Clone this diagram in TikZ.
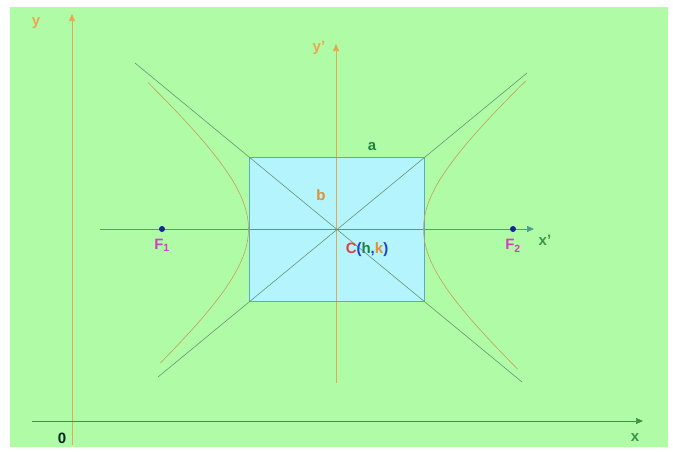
\documentclass[tikz,border=0pt]{standalone}
\usepackage{fontspec}
\setmainfont{Liberation Sans}
\usetikzlibrary{arrows.meta,positioning,calc}

\definecolor{bggreen}{HTML}{B0FCA6}
\definecolor{boxcyan}{HTML}{B4F4FC}
\definecolor{boxline}{HTML}{5AAAC8}
\definecolor{axorange}{HTML}{E8A850}
\definecolor{axgreen}{HTML}{3E9446}
\definecolor{axteal}{HTML}{4C9C90}
\definecolor{asymgrey}{HTML}{6A9474}
\definecolor{hypbrown}{HTML}{C4A05A}
\definecolor{focblue}{HTML}{1424A0}
\definecolor{focpink}{HTML}{D040C0}
\definecolor{lblred}{HTML}{E04040}
\definecolor{lblblue}{HTML}{2040D0}
\definecolor{lblgreen}{HTML}{208040}
\definecolor{lblorange}{HTML}{E09030}

\tikzset{
  lbl/.style={font=\fontsize{15}{17}\selectfont\bfseries, inner sep=0pt},
  axarrow/.style={-{Triangle[length=7pt,width=6pt]}, line width=0.7pt},
  focdot/.style={circle, fill=focblue, inner sep=0pt, minimum size=6pt},
}

\begin{document}
\begin{tikzpicture}[x=1pt,y=-1pt]
  \useasboundingbox (0,0) rectangle (673,451);
  \fill[bggreen] (10,7) rectangle (668,447); % background

  % original axes
  \coordinate (ybot) at (72,445);
  \coordinate (ytop) at (72,14);
  \coordinate (xleft) at (32,421);
  \coordinate (xright) at (643,421);
  \draw[axarrow, axorange] (ybot) -- (ytop);
  \draw[axarrow, axgreen] (xleft) -- (xright);
  \node[lbl, text=axorange] (ylbl) at (36,23) {y};
  \node[lbl, text=axgreen] (xlbl) at (635,438) {x};
  \node[lbl, text=black!70!teal] (olbl) at (62,438) {0};

  % centre and box
  \coordinate (C) at (336,229);
  \fill[boxcyan] (249,157) rectangle (424,301);

  % shifted axes
  \coordinate (ypbot) at (336,383);
  \coordinate (yptop) at (336,44);
  \coordinate (xpleft) at (100,229);
  \coordinate (xpright) at (534,229);
  \draw[axarrow, axorange] (ypbot) -- (yptop);
  \draw[axarrow, axteal] (xpleft) -- (xpright);
  \node[lbl, text=axorange] (yplbl) at (319,48) {y'};
  \node[lbl, text=axgreen] (xplbl) at (545,240) {x'};

  \draw[boxline, line width=0.8pt] (249,157) rectangle (424,301);

  % asymptotes
  \coordinate (aul) at ($(C)+(-201,-166)$);
  \coordinate (alr) at ($(C)+(186,153)$);
  \coordinate (aur) at ($(C)+(191,-156)$);
  \coordinate (all) at ($(C)+(-178,148)$);
  \draw[asymgrey, line width=0.6pt] (aul) -- (alr);
  \draw[asymgrey, line width=0.6pt] (all) -- (aur);

  % hyperbola branches
  \draw[hypbrown, line width=0.6pt, domain=-1.36:1.41, samples=60, smooth]
    plot ({336+87.5*cosh(\x)}, {229-77*sinh(\x)});
  \draw[hypbrown, line width=0.6pt, domain=-1.32:1.40, samples=60, smooth]
    plot ({336-87.5*cosh(\x)}, {229-77*sinh(\x)});

  % foci
  \node[focdot] (F1) at (162,229) {};
  \node[focdot] (F2) at (513,229) {};
  \node[lbl, text=focpink, below=7pt of F1] (F1lbl) {F$_{\mathbf 1}$};
  \node[lbl, text=focpink, below=7pt of F2] (F2lbl) {F$_{\mathbf 2}$};

  % labels
  \node[lbl, text=lblgreen] (albl) at (372,147) {a};
  \node[lbl, text=lblorange] (blbl) at (321,195) {b};
  \node[lbl] (Clbl) at (367,250) {\textcolor{lblred}{C}\textcolor{lblblue}{(}\textcolor{lblgreen}{h}\textcolor{lblblue}{,}\textcolor{lblorange}{k}\textcolor{lblblue}{)}};
\end{tikzpicture}
\end{document}
